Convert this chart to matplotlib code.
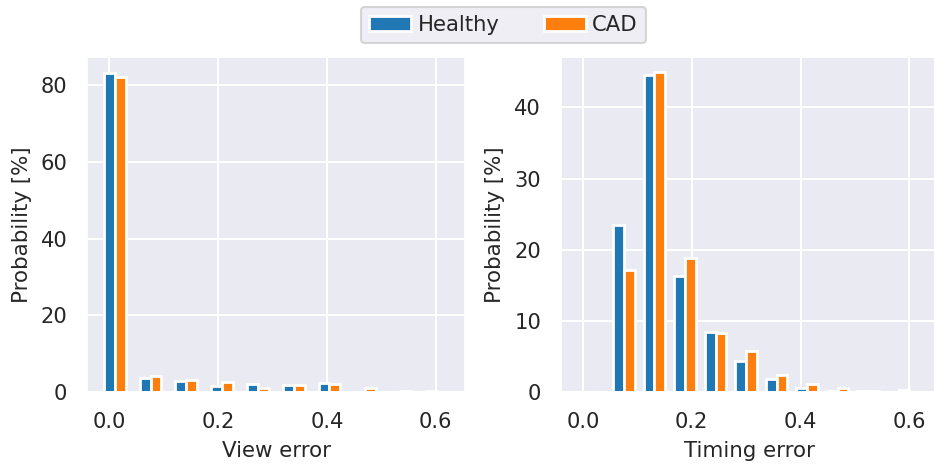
import numpy as np
import matplotlib
matplotlib.use('Agg')
import matplotlib.pyplot as plt
import seaborn as sns

sns.set(font_scale=1.3)
plt.rcParams.update({
    'xtick.labelsize': 15.1,
    'ytick.labelsize': 15.1,
    'axes.labelsize': 15.4,
    'legend.fontsize': 15.2,
    'xtick.major.size': 0,
    'ytick.major.size': 0,
    'xtick.major.pad': 14.5,
    'ytick.major.pad': 14.3,
    'grid.linewidth': 1.5,
    'axes.labelpad': 6.5,
})

# bin positions (left of each pair) and probabilities in %
view_bins = [0.0, 0.0658, 0.1316, 0.1974, 0.2632, 0.329, 0.3948, 0.4606, 0.5264, 0.5922]
view_healthy = [83.2, 3.6, 2.8, 1.5, 2.1, 1.7, 2.35, 0.1, 0.1, 0.15]
view_cad = [82.2, 4.2, 3.0, 2.5, 1.05, 1.7, 2.0, 1.15, 0.25, 0.05]

timing_bins = [0.0092, 0.0653, 0.1214, 0.1775, 0.2336, 0.2897, 0.3458, 0.4019, 0.458, 0.5141, 0.5702]
timing_healthy = [0.0, 23.5, 44.6, 16.3, 8.5, 4.4, 1.8, 0.55, 0.15, 0.1, 0.05]
timing_cad = [0.0, 17.2, 45.0, 18.9, 8.3, 5.7, 2.4, 1.15, 0.6, 0.2, 0.35]

labels = ['Healthy', 'CAD']
colors = ['#1f77b4', '#ff7f0e']
w = 0.02

fig = plt.figure(figsize=(9.34, 4.66), dpi=100)
ax1 = fig.add_axes([87.3 / 934, 74 / 466, 377.7 / 934, 335 / 466])
ax2 = fig.add_axes([561 / 934, 74 / 466, 377.7 / 934, 335 / 466])

for ax, x, h, c, xl in [(ax1, view_bins, view_healthy, view_cad, 'View error'),
                        (ax2, timing_bins, timing_healthy, timing_cad, 'Timing error')]:
    x = np.array(x)
    ax.bar(x, h, width=w, color=colors[0], edgecolor='white', linewidth=2, label=labels[0])
    ax.bar(x + w, c, width=w, color=colors[1], edgecolor='white', linewidth=2, label=labels[1])
    ax.set_xlim(-0.0405, 0.654)
    ax.set_xticks([0.0, 0.2, 0.4, 0.6])
    ax.set_xlabel(xl)
    ax.set_ylabel('Probability [%]')

ax1.set_ylim(0, 87.3)
ax1.set_yticks([0, 20, 40, 60, 80])
ax2.set_ylim(0, 47.1)
ax2.set_yticks([0, 10, 20, 30, 40])

h, l = ax1.get_legend_handles_labels()
leg = fig.legend(h, l, loc='upper center', ncol=2, bbox_to_anchor=(503.5 / 934, 1 - 6.5 / 466),
                 borderaxespad=0, handletextpad=0.3, columnspacing=2.1)
leg.get_frame().set_linewidth(1.5)

fig.savefig('out.png', dpi=100)
